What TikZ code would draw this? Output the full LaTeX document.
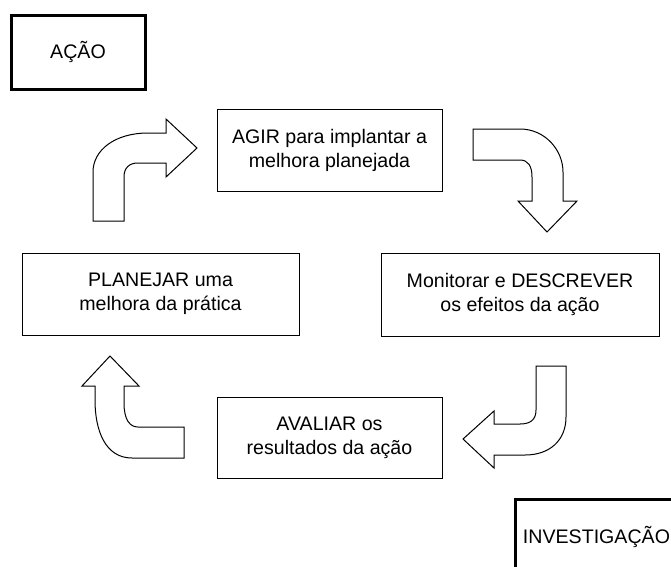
\documentclass[tikz,border=0pt]{standalone}
\usepackage{fontspec}
\setmainfont{Liberation Sans}
\begin{document}
\begin{tikzpicture}[x=1pt,y=-1pt,
		etapa/.style={draw,line width=1pt,inner sep=0pt,align=center,font=\fontsize{19.6}{24}\selectfont},
		rotulo/.style={draw,line width=3pt,inner sep=0pt,font=\fontsize{19.6}{23}\selectfont},
		seta/.style={draw,line width=1pt,fill=white,line join=miter}]
		\useasboundingbox (0,0) rectangle (671,566);
		\clip (0,0) rectangle (671,566);
		\node[rotulo,minimum width=134,minimum height=74] (acao) at (78,52) {AÇÃO};
		\node[rotulo,minimum width=163,minimum height=74] (invest) at (596.5,536.5) {INVESTIGAÇÃO};
		\node[etapa,minimum width=225,minimum height=82] (agir) at (329.5,150) {AGIR para implantar a\\melhora planejada};
		\node[etapa,minimum width=278,minimum height=83] (monit) at (520,294.5) {Monitorar e DESCREVER\\os efeitos da ação};
		\node[etapa,minimum width=225,minimum height=81] (aval) at (329.5,437.5) {AVALIAR os\\resultados da ação};
		\node[etapa,minimum width=277,minimum height=82] (plan) at (160.5,294) {PLANEJAR uma\\melhora da prática};
		\path[seta] (93,221)--(93,172) .. controls (93,150) and (115,133) .. (148,133)--(166,133)--(166,119)--(197,148)--(166,177)--(166,163)--(138,163) .. controls (129,163) and (124,168) .. (124,177)--(124,221)--cycle;
		\path[seta] (473,129)--(520,129) .. controls (545,129) and (563,150) .. (563,172)--(563,201)--(577,201)--(547,232)--(518,201)--(532,201)--(532,177) .. controls (532,166) and (528,160) .. (520,160)--(473,160)--cycle;
		\path[seta] (536,366)--(566,366)--(566,417) .. controls (566,440) and (550,455) .. (525,455)--(494,455)--(494,468)--(463,439)--(494,411)--(494,424)--(520,424) .. controls (530,424) and (536,420) .. (536,410)--cycle;
		\path[seta] (184,427)--(184,458)--(132,458) .. controls (105,458) and (95,430) .. (95,400)--(95,386)--(82,386)--(110,356)--(139,386)--(124,386)--(124,403) .. controls (124,420) and (130,427) .. (138,427)--cycle;
		\end{tikzpicture}
\end{document}
